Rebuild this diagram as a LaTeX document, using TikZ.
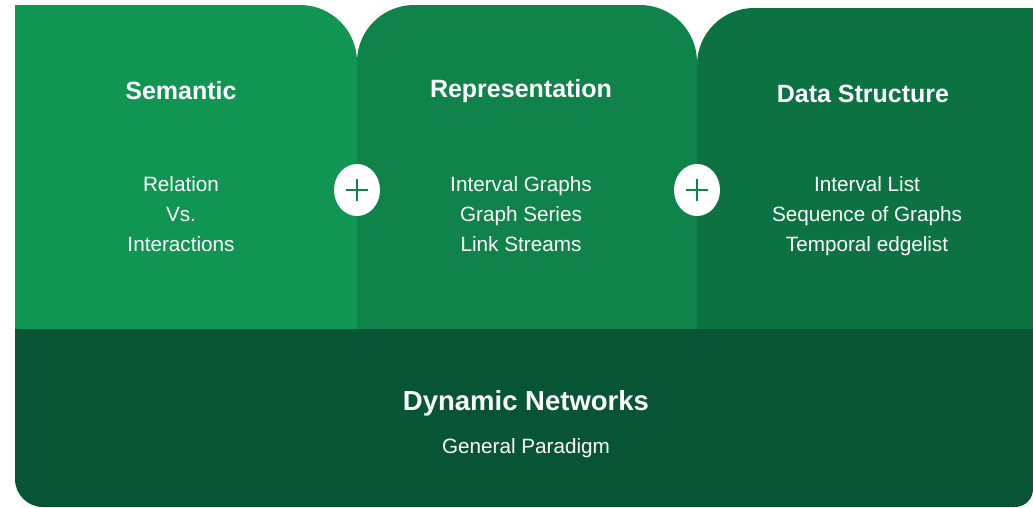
\documentclass[tikz,border=0pt]{standalone}
\usepackage{fontspec}
\setmainfont{Liberation Sans}
\usetikzlibrary{shapes.geometric}
\definecolor{gA}{HTML}{119553}
\definecolor{gB}{HTML}{0F8349}
\definecolor{gC}{HTML}{0C7242}
\definecolor{gD}{HTML}{075534}
\begin{document}
\begin{tikzpicture}[x=1pt,y=-1pt,
  title/.style={text=white,font=\fontsize{25}{30}\selectfont\bfseries,anchor=center},
  body/.style={text=white,font=\fontsize{20.7}{30}\selectfont,align=center,anchor=center},
  plusbub/.style={ellipse,fill=white,minimum width=46pt,minimum height=52pt,inner sep=0pt}]
\useasboundingbox (0,0) rectangle (1033,507);
% three top panels
\fill[gA] (15,5) -- (300,5) arc[start angle=270,end angle=360,radius=57] -- (357,329) -- (15,329) -- cycle;
\fill[gB] (357,329) -- (357,62) arc[start angle=180,end angle=270,radius=57] -- (640,5) arc[start angle=270,end angle=360,radius=57] -- (697,329) -- cycle;
\fill[gC] (697,329) -- (697,65) arc[start angle=180,end angle=270,radius=57] -- (1040,8) -- (1040,329) -- cycle;
% base panel
\fill[gD] (15,329) -- (1033,329) -- (1033,489) arc[start angle=0,end angle=90,radius=18] -- (43,507) arc[start angle=90,end angle=180,radius=28] -- cycle;
% panel titles
\node[title] (sem) at (181,91) {Semantic};
\node[title] (rep) at (521,91) {Representation};
\node[title] (ds) at (863,94) {Data Structure};
% panel items
\node[body] (semtxt) at (181,214) {Relation\\Vs.\\Interactions};
\node[body] (reptxt) at (521,214) {Interval Graphs\\Graph Series\\Link Streams};
\node[body] (dstxt) at (867,216) {Interval List\\Sequence of Graphs\\Temporal edgelist};
% plus bubbles
\node[plusbub] (p1) at (357,190) {};
\node[plusbub] (p2) at (697,190) {};
\foreach \p in {p1,p2}{
  \draw[gB,line width=2.8pt] ([xshift=-11pt]\p.center) -- ([xshift=11pt]\p.center);
  \draw[gB,line width=2.8pt] ([yshift=-11pt]\p.center) -- ([yshift=11pt]\p.center);
}
% base text
\node[title,font=\fontsize{27.5}{32}\selectfont\bfseries] (dyn) at (526,403) {Dynamic Networks};
\node[body] (gp) at (526,448) {General Paradigm};
\end{tikzpicture}
\end{document}
